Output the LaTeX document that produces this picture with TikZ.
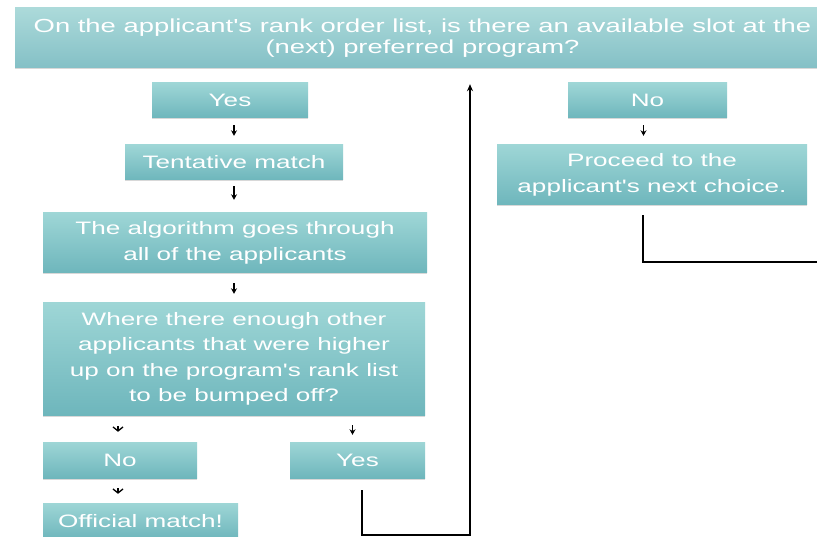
\documentclass[tikz,border=0pt]{standalone}
\usepackage{fontspec}
\newfontfamily\boxfont[FakeStretch=1.45]{Liberation Sans}
\usetikzlibrary{arrows.meta,shadows}
\definecolor{boxtop}{RGB}{158,214,214}
\definecolor{boxbot}{RGB}{110,182,188}
\definecolor{headtop}{RGB}{172,218,218}
\definecolor{headbot}{RGB}{132,192,198}
\begin{document}
\begin{tikzpicture}[x=1pt,y=-1pt,
  box/.style={draw=none, top color=boxtop, bottom color=boxbot, text=white,
    align=center, inner sep=0pt, font=\boxfont\fontsize{18}{25.5}\selectfont,
    drop shadow={opacity=0.3, shadow xshift=0pt, shadow yshift=-1.5pt}},
  headbox/.style={box, top color=headtop, bottom color=headbot,
    font=\boxfont\fontsize{18.9}{21}\selectfont},
  conn/.style={line width=1.4pt, black},
  sarrow/.style={-{Stealth[length=5.5pt,width=6pt]}, line width=1.2pt},
  chev/.style={-{Straight Barb[length=4pt,width=10pt]}, line width=1.3pt}]
\fill[white] (0,0) rectangle (817,537);
\clip (0,0) rectangle (817,537);

\node[headbox, minimum width=815pt, minimum height=60pt] (top) at (422.5,38)
  {On the applicant's rank order list, is there an available slot at the\\(next) preferred program?};

\node[box, minimum width=156pt, minimum height=35pt] (yes1) at (230,100.5) {Yes};
\node[box, minimum width=218pt, minimum height=35pt] (tent) at (234,162.5) {Tentative match};
\node[box, minimum width=384pt, minimum height=60pt] (algo) at (235,243) {The algorithm goes through\\all of the applicants};
\node[box, minimum width=382pt, minimum height=112pt] (where) at (234,359)
  {Where there enough other\\applicants that were higher\\up on the program's rank list\\to be bumped off?};
\node[box, minimum width=154pt, minimum height=36pt] (no2) at (120,460) {No};
\node[box, minimum width=135pt, minimum height=36pt] (yes2) at (357.5,460) {Yes};
\node[box, minimum width=195pt, minimum height=36pt] (off) at (140.5,521) {Official match!};

\node[box, minimum width=159pt, minimum height=35pt] (no1) at (647.5,100.5) {No};
\node[box, minimum width=310pt, minimum height=60pt] (proc) at (652,175) {Proceed to the\\applicant's next choice.};

% short arrows
\draw[sarrow, shorten <=7pt, shorten >=9pt] (yes1.south -| tent.north) -- (tent.north);
\draw[sarrow, shorten <=6pt, shorten >=13pt] (tent.south) -- (tent.south |- algo.north);
\draw[sarrow, shorten <=10pt, shorten >=9pt] (algo.south -| where.north) -- (where.north);
\draw[chev, shorten <=11pt, shorten >=10pt] (where.south -| no2.north) ++(-2,0) coordinate (w1) -- (w1 |- no2.north);
\draw[sarrow, shorten <=10pt, shorten >=7pt] (where.south -| yes2.north) ++(-5,0) coordinate (w2) -- (w2 |- yes2.north);
\draw[chev, shorten <=10pt, shorten >=9pt] (no2.south) ++(-2,0) coordinate (n1) -- (n1 |- off.north);
\draw[sarrow, shorten <=7pt, shorten >=9pt] (no1.south) ++(-4,0) coordinate (n2) -- (n2 |- proc.north);

% loop back from Yes to top
\coordinate (c1) at (362,535);
\coordinate (c2) at (470,535);
\draw[conn, -{Stealth[length=7pt,width=6pt]}, shorten >=16pt]
  (yes2.south -| c1) ++(0,12) -- (c1) -- (c2) -- (c2 |- top.south);

% from Proceed to the right
\coordinate (p1) at (643,262);
\coordinate (p2) at (817,262);
\draw[conn] (proc.south -| p1) ++(0,10) -- (p1) -- (p2);
\end{tikzpicture}
\end{document}
